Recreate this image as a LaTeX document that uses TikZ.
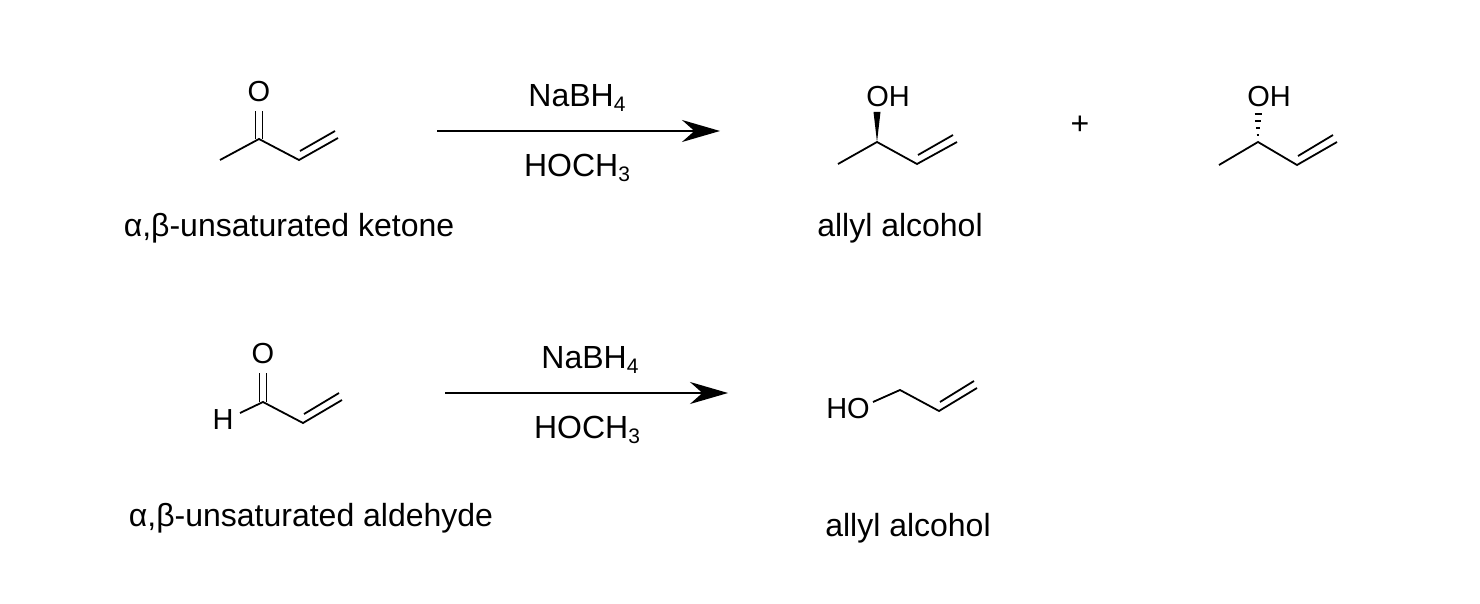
\documentclass[tikz,border=0pt]{standalone}
\usepackage{fontspec}
\setmainfont{Liberation Sans}
\usetikzlibrary{arrows.meta,positioning}
\newcommand{\sub}[1]{\raisebox{-0.3ex}{\fontsize{21}{21}\selectfont #1}}
\begin{document}
\begin{tikzpicture}[x=1pt,y=-1pt]
        \tikzset{bond/.style={line width=1.8pt},
                 atom/.style={inner sep=0pt,font=\fontsize{29}{29}\selectfont},
                 label/.style={inner sep=0pt,font=\fontsize{32}{32}\selectfont},
                 rxn/.style={line width=1.8pt,-{Stealth[length=38,width=22]}}}
        \useasboundingbox (0,0) rectangle (1480,604);

        % ketone
        \coordinate (k1) at (220,160);
        \coordinate (k2) at (259,139);
        \coordinate (k3) at (299,160);
        \coordinate (k4) at (338,138);
        \node[atom] (kO) at (259,92) {O};
        \draw[bond] (k1) -- (k2) -- (k3) -- (k4);
        \draw[bond] ([xshift=-3.5]k2) -- (255.5,111);
        \draw[bond] ([xshift=3.5]k2) -- (262.5,111);
        \draw[bond] (300,151) -- (335,131);

        % top arrow
        \coordinate (a1) at (437,131);
        \coordinate (a2) at (720,131);
        \draw[rxn] (a1) -- (a2);
        \node[label] (r1) at (577,98) {NaBH\sub{4}};
        \node[label] (s1) at (577,168) {HOCH\sub{3}};

        % product R
        \coordinate (p1) at (838,164);
        \coordinate (p2) at (877,142);
        \coordinate (p3) at (917,164);
        \coordinate (p4) at (957,142);
        \node[atom] (pO) at (888,97) {OH};
        \draw[bond] (p1) -- (p2) -- (p3) -- (p4);
        \draw[bond] (918,155) -- (953,135);
        \fill (p2) -- (873.5,112) -- (880.5,112) -- cycle;

        \node[label] (plus) at (1080,125) {+};

        % product S
        \coordinate (q1) at (1219,165);
        \coordinate (q2) at (1258,142);
        \coordinate (q3) at (1297,165);
        \coordinate (q4) at (1337,142);
        \node[atom] (qO) at (1269,97) {OH};
        \draw[bond] (q1) -- (q2) -- (q3) -- (q4);
        \draw[bond] (1298,156) -- (1333,135);
        \foreach \y/\w in {114/3.5,121/2.8,128/2.1,135/1.4}
            \draw[line width=1.4pt] (1258-\w,\y) -- (1258+\w,\y);

        \node[label] (n1) at (289,228) {α,β-unsaturated ketone};
        \node[label] (n2) at (900,228) {allyl alcohol};

        % aldehyde
        \node[atom] (aH) at (223,420) {H};
        \coordinate (h1) at (240,413);
        \coordinate (h2) at (263,402);
        \coordinate (h3) at (303,423);
        \coordinate (h4) at (342,400);
        \node[atom] (aO) at (263,354) {O};
        \draw[bond] (h1) -- (h2) -- (h3) -- (h4);
        \draw[bond] ([xshift=-3.5]h2) -- (259.5,373);
        \draw[bond] ([xshift=3.5]h2) -- (266.5,373);
        \draw[bond] (304,414) -- (339,393);

        % bottom arrow
        \coordinate (b1) at (445,393);
        \coordinate (b2) at (728,393);
        \draw[rxn] (b1) -- (b2);
        \node[label] (r2) at (590,360) {NaBH\sub{4}};
        \node[label] (s2) at (587,430) {HOCH\sub{3}};

        % allyl alcohol
        \node[atom] (lO) at (848,409) {HO};
        \coordinate (l1) at (873,402);
        \coordinate (l2) at (900,390);
        \coordinate (l3) at (939,411);
        \coordinate (l4) at (977,388);
        \draw[bond] (l1) -- (l2) -- (l3) -- (l4);
        \draw[bond] (940,402) -- (974,381);

        \node[label] (n3) at (311,518) {α,β-unsaturated aldehyde};
        \node[label] (n4) at (908,528) {allyl alcohol};
    \end{tikzpicture}
\end{document}
